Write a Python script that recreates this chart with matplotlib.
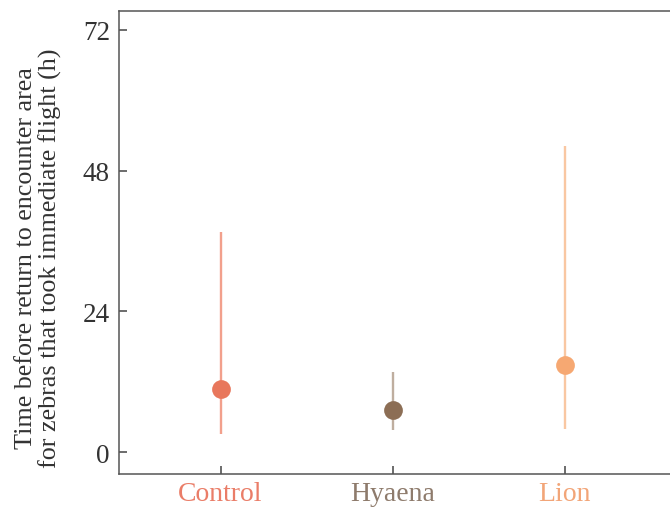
import matplotlib
matplotlib.use("Agg")
import matplotlib.pyplot as plt

# Return times (h) after immediate flight, with interval ends
groups = ["Control", "Hyaena", "Lion"]
centre = [10.8, 7.2, 14.9]
upper = [37.5, 13.6, 52.2]
lower = [3.0, 3.8, 4.0]

point_colors = ["#E8775C", "#8C6E55", "#F6A872"]
line_colors = ["#F2A08C", "#BFAE9F", "#F9C7A2"]
label_colors = ["#EA7D68", "#8E7B6C", "#F2A578"]

plt.rcParams["font.family"] = ["Liberation Serif", "DejaVu Serif"]

fig = plt.figure(figsize=(6.7, 5.1), dpi=100)
ax = fig.add_axes([0.1776, 0.0686, 0.85, 0.9079])

for i, g in enumerate(groups):
    ax.vlines(i, lower[i], upper[i], color=line_colors[i], lw=1.7, zorder=2)
    ax.plot(i, centre[i], "o", ms=13.5, color=point_colors[i], mec="none", zorder=3)

ax.set_xlim(-0.59, 2.72)
ax.set_ylim(-3.75, 75.2)
ax.set_yticks([0, 24, 48, 72])
ax.set_xticks(range(len(groups)))
ax.set_xticklabels(groups)

ax.tick_params(direction="in", length=6, width=1.1, color="#444444",
               labelcolor="#333333")
ax.tick_params(axis="y", labelsize=19.5, pad=6.5)
ax.tick_params(axis="x", labelsize=20, pad=5)
for lab, c in zip(ax.get_xticklabels(), label_colors):
    lab.set_color(c)

for side in ["left", "bottom", "top", "right"]:
    ax.spines[side].set_color("#555555")
    ax.spines[side].set_linewidth(1.1)

ax.set_ylabel("Time before return to encounter area\nfor zebras that took immediate flight (h)",
              fontsize=18.8, color="#333333", linespacing=1.1)
ax.yaxis.set_label_coords(-0.1, 0.468)

fig.savefig("out.png", dpi=100)
